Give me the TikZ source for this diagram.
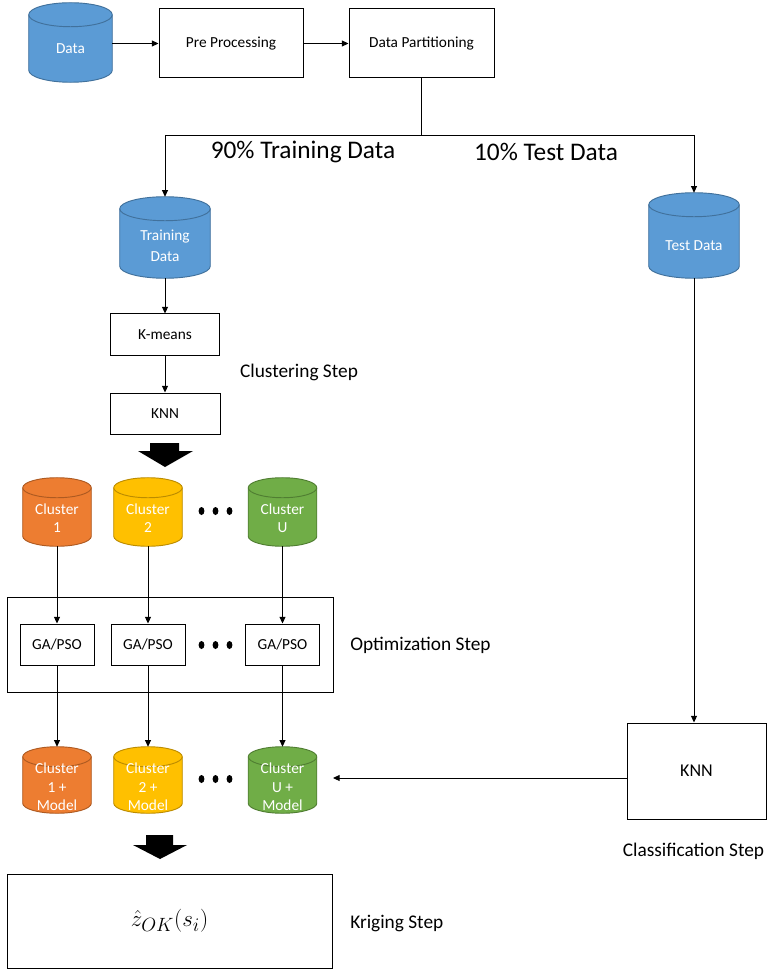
\documentclass[tikz,border=0pt]{standalone}
\usepackage{fontspec}
\setmainfont{Carlito}
\usetikzlibrary{arrows.meta,calc,backgrounds}
\definecolor{cblue}{HTML}{5B9BD5}\definecolor{cblueb}{HTML}{41719C}
\definecolor{corange}{HTML}{ED7D31}\definecolor{corangeb}{HTML}{AE5A21}
\definecolor{cgold}{HTML}{FFC000}\definecolor{cgoldb}{HTML}{BC8C00}
\definecolor{cgreen}{HTML}{70AD47}\definecolor{cgreenb}{HTML}{507E32}
\tikzset{
  box/.style={draw, line width=0.75pt, fill=white, inner sep=0pt, font=\fontsize{11.5}{13}\selectfont},
  cylnode/.style={inner sep=0pt},
  ctext/.style={text=white, align=center, inner sep=0pt},
  arr/.style={line width=0.7pt, -{Triangle[length=5pt,width=4.5pt]}},
  ln/.style={line width=0.7pt},
  steplabel/.style={inner sep=0pt, font=\fontsize{14.5}{16}\selectfont},
  biglabel/.style={inner sep=0pt, font=\fontsize{19}{22}\selectfont},
}
% #1 node name, #2 fill, #3 border, #4 half height of the ellipse
\newcommand\cylshape[4]{%
  \draw[fill=#2, draw=#3, line width=0.7pt] let \p1=(#1.north west), \p2=(#1.south east), \n1={(\x2-\x1)/2} in
    (\x1,\y1-#4) -- (\x1,\y2+#4) arc[start angle=180,end angle=360,x radius=\n1,y radius=#4]
    -- (\x2,\y1-#4) arc[start angle=0,end angle=180,x radius=\n1,y radius=#4] -- cycle;
  \draw[draw=#3, line width=0.7pt] let \p1=(#1.north west), \p2=(#1.south east), \n1={(\x2-\x1)/2} in
    (\x1,\y1-#4) arc[start angle=180,end angle=360,x radius=\n1,y radius=#4];
}
\begin{document}
\begin{tikzpicture}[x=0.75pt,y=-0.75pt]
\begin{scope}[on background layer]
  \fill[white] (0,0) rectangle (768,969);
\end{scope}
\useasboundingbox (0,0) rectangle (768,969);

% ---------- top row
\node[cylnode, minimum width=62.25pt, minimum height=59.25pt] (data) at (70.5,42.5) {};
\node[ctext, font=\fontsize{11.5}{13}\selectfont] (datat) at (70.5,49) {Data};
\node[box, minimum width=108pt, minimum height=51.75pt] (pre) at (231,43.5) {Pre Processing};
\node[box, minimum width=108.75pt, minimum height=51.75pt] (part) at (421.5,43.5) {Data Partitioning};

\coordinate (tl) at (165,135);
\coordinate (tr) at (694,135);

\node[biglabel] (l90) at (303,152) {90\% Training Data};
\node[biglabel] (l10) at (546,152) {10\% Test Data};

% ---------- training / test
\node[cylnode, minimum width=67.5pt, minimum height=60.75pt] (train) at (165,237.5) {};
\node[ctext, font=\fontsize{11.5}{15.75}\selectfont] (traint) at (165,246) {Training\\Data};
\node[cylnode, minimum width=67.5pt, minimum height=63.75pt] (test) at (694,235.5) {};
\node[ctext, font=\fontsize{11.5}{13}\selectfont] (testt) at (694,246) {Test Data};

\node[box, minimum width=81.75pt, minimum height=30.75pt] (kmeans) at (165,334.5) {K-means};
\node[box, minimum width=82.5pt, minimum height=30.75pt] (knn1) at (165,413.5) {KNN};
\node[steplabel] (lclu) at (299,372) {Clustering Step};

% block arrow 1
\fill (150,443) -- (179,443) -- (179,451) -- (193,451) -- (165,467) -- (138,451) -- (150,451) -- cycle;

% ---------- clusters
\node[cylnode, minimum width=51pt, minimum height=51pt] (c1) at (57,512) {};
\node[cylnode, minimum width=51pt, minimum height=51pt] (c2) at (148,512) {};
\node[cylnode, minimum width=51pt, minimum height=51pt] (cu) at (282.5,512) {};
\node[ctext, font=\fontsize{11.5}{13.5}\selectfont] (c1t) at (57,518) {Cluster\\1};
\node[ctext, font=\fontsize{11.5}{13.5}\selectfont] (c2t) at (148,518) {Cluster\\2};
\node[ctext, font=\fontsize{11.5}{13.5}\selectfont] (cut) at (282.5,518) {Cluster\\U};
\fill (201.5,511) ellipse[x radius=2.2pt, y radius=3pt];
\fill (215.5,511) ellipse[x radius=2.2pt, y radius=3pt];
\fill (229.5,511) ellipse[x radius=2.2pt, y radius=3pt];

% ---------- optimization
\node[draw, line width=0.75pt, inner sep=0pt, minimum width=244.5pt, minimum height=71.25pt] (opt) at (170,644.5) {};
\node[box, minimum width=55.5pt, minimum height=30.75pt] (ga1) at (57,644.5) {GA/PSO};
\node[box, minimum width=55.5pt, minimum height=30.75pt] (ga2) at (148,644.5) {GA/PSO};
\node[box, minimum width=55.5pt, minimum height=30.75pt] (gau) at (282.5,644.5) {GA/PSO};
\fill (201.5,645) ellipse[x radius=2.2pt, y radius=3pt];
\fill (215.5,645) ellipse[x radius=2.2pt, y radius=3pt];
\fill (229.5,645) ellipse[x radius=2.2pt, y radius=3pt];
\node[steplabel, anchor=west] (lopt) at (350,645) {Optimization Step};

% ---------- clusters + model
\node[cylnode, minimum width=51pt, minimum height=49.5pt] (c1m) at (57,780) {};
\node[cylnode, minimum width=51pt, minimum height=49.5pt] (c2m) at (148,780) {};
\node[cylnode, minimum width=51pt, minimum height=49.5pt] (cum) at (282.5,780) {};
\node[ctext, font=\fontsize{11.5}{13.9}\selectfont] (c1mt) at (57,787) {Cluster\\1 +\\Model};
\node[ctext, font=\fontsize{11.5}{13.9}\selectfont] (c2mt) at (148,787) {Cluster\\2 +\\Model};
\node[ctext, font=\fontsize{11.5}{13.9}\selectfont] (cumt) at (282.5,787) {Cluster\\U +\\Model};
\fill (201.5,779) ellipse[x radius=2.2pt, y radius=3pt];
\fill (215.5,779) ellipse[x radius=2.2pt, y radius=3pt];
\fill (229.5,779) ellipse[x radius=2.2pt, y radius=3pt];

% ---------- classification
\node[box, minimum width=104.25pt, minimum height=72pt, font=\fontsize{13.5}{15}\selectfont] (knn2) at (696.5,771) {KNN};
\node[steplabel] (lcls) at (693.5,851) {Classification Step};
\coordinate (kend) at (333,778);

% block arrow 2
\fill (146,835) -- (173,835) -- (173,845) -- (187,845) -- (160,859) -- (133,845) -- (146,845) -- cycle;

% ---------- kriging
\node[box, minimum width=243.75pt, minimum height=70.5pt] (krig) at (169.5,921) {\fontsize{19}{22}\selectfont$\hat{z}_{OK}(s_i)$};
\node[steplabel, anchor=west] (lkrig) at (350,923) {Kriging Step};

% ---------- cylinders on background
\begin{scope}[on background layer]
  \cylshape{data}{cblue}{cblueb}{9pt}
  \cylshape{train}{cblue}{cblueb}{9pt}
  \cylshape{test}{cblue}{cblueb}{9pt}
  \cylshape{c1}{corange}{corangeb}{7.5pt}
  \cylshape{c2}{cgold}{cgoldb}{7.5pt}
  \cylshape{cu}{cgreen}{cgreenb}{7.5pt}
  \cylshape{c1m}{corange}{corangeb}{7.5pt}
  \cylshape{c2m}{cgold}{cgoldb}{7.5pt}
  \cylshape{cum}{cgreen}{cgreenb}{7.5pt}
\end{scope}

% ---------- connectors
\draw[arr] (data.east |- pre.west) -- (pre.west);
\draw[arr] (pre) -- (part);
\draw[ln] (part.south) -- (part.south |- tl);
\draw[ln] (tl) -- (tr);
\draw[arr] (tl) -- (train.north);
\draw[arr] (tr) -- (test.north);
\draw[arr] (train.south) -- (kmeans.north);
\draw[arr] (kmeans) -- (knn1);
\draw[arr] (c1.south) -- (ga1.north);
\draw[arr] (c2.south) -- (ga2.north);
\draw[arr] (cu.south) -- (gau.north);
\draw[arr] (ga1.south) -- (c1m.north);
\draw[arr] (ga2.south) -- (c2m.north);
\draw[arr] (gau.south) -- (cum.north);
\draw[arr] (test.south) -- (test.south |- knn2.north);
\draw[arr] (knn2.west |- kend) -- (kend);
\end{tikzpicture}
\end{document}
